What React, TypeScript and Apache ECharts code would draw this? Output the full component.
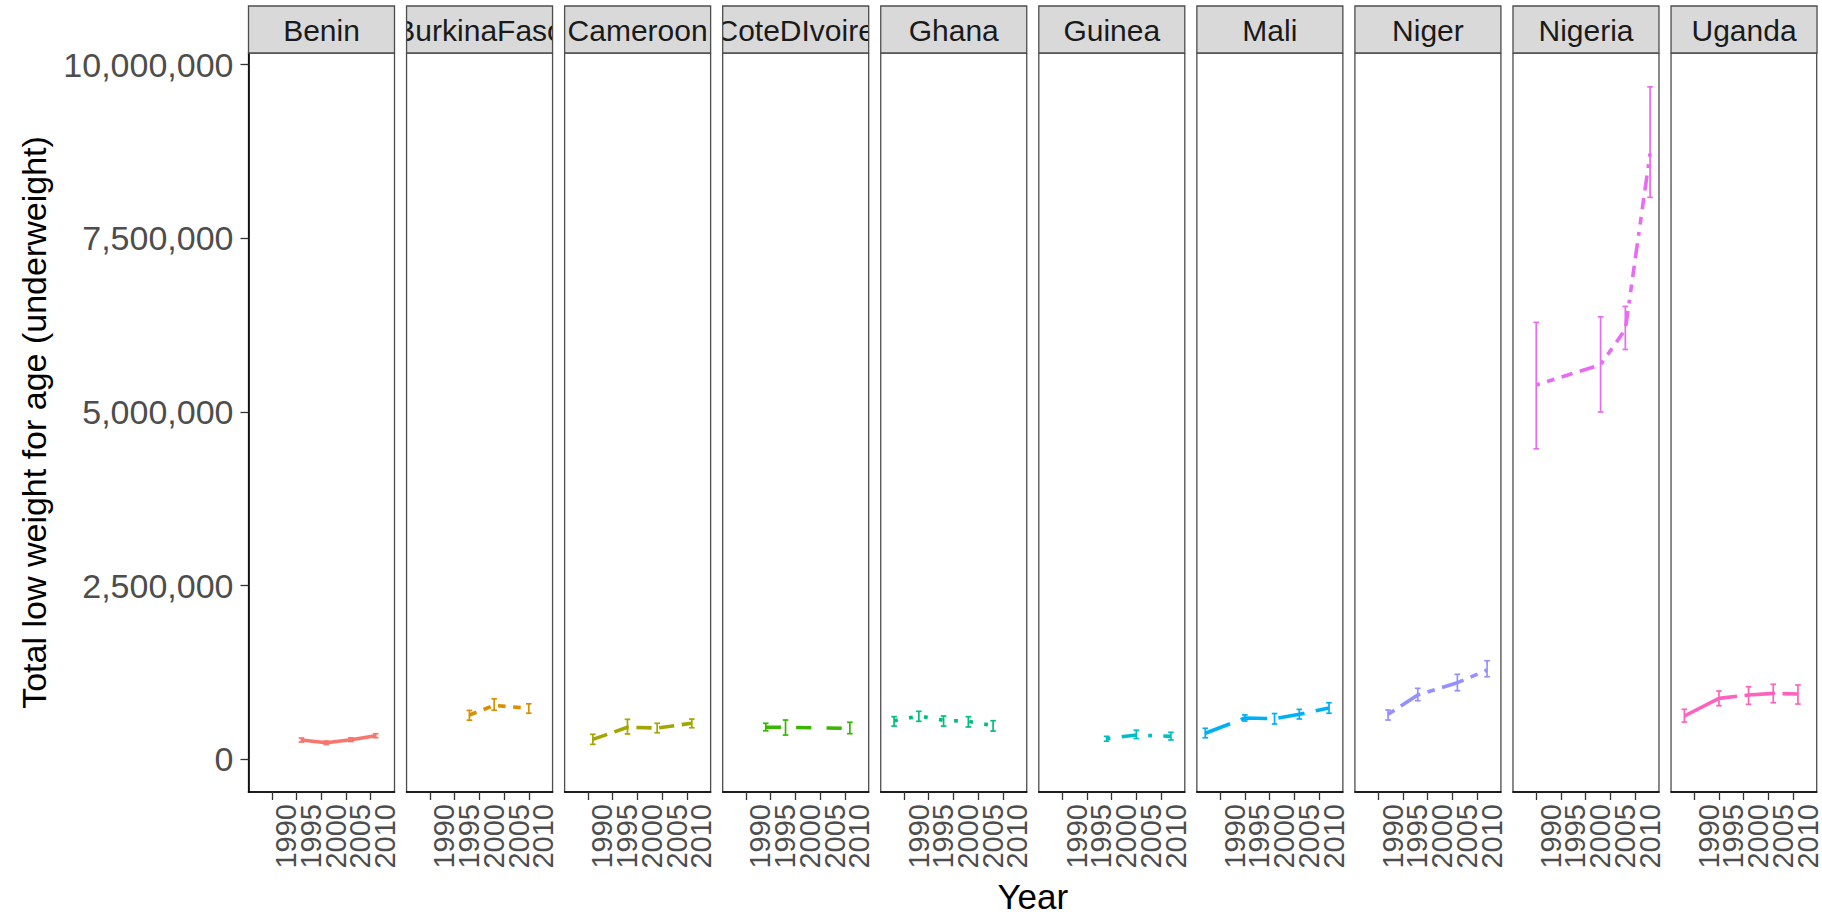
import React, { useEffect, useRef } from 'react';
import * as echarts from 'echarts';

const countries = ['Benin', 'BurkinaFaso', 'Cameroon', 'CoteDIvoire', 'Ghana', 'Guinea', 'Mali', 'Niger', 'Nigeria', 'Uganda'];
const countryColors = ['#F8766D', '#D89000', '#A3A500', '#39B600', '#00BF7D', '#00BFC4', '#00B0F6', '#9590FF', '#E76BF3', '#FF62BC'];
const linetypeCodes = ['solid', '22', '42', '44', '13', '1343', '73', '2262', '12223242', 'F282'];

const surveyYears: number[][] = [
  [1996, 2001, 2006, 2011],
  [1998, 2003, 2010],
  [1991, 1998, 2004, 2011],
  [1994, 1998, 2011],
  [1988, 1993, 1998, 2003, 2008],
  [1999, 2005, 2012],
  [1987, 1995, 2001, 2006, 2012],
  [1992, 1998, 2006, 2012],
  [1990, 2003, 2008, 2013],
  [1988, 1995, 2001, 2006, 2011],
];
const totalUnderweight: number[][] = [
  [279000, 240000, 284000, 341000],
  [639000, 778000, 735000],
  [289000, 462000, 452000, 520000],
  [462000, 462000, 447000],
  [557000, 625000, 563000, 548000, 485000],
  [298000, 351000, 332000],
  [376000, 596000, 586000, 649000, 740000],
  [649000, 927000, 1104000, 1287000],
  [5390000, 5680000, 6190000, 8720000],
  [625000, 879000, 927000, 951000, 941000],
];
const lowerBound: number[][] = [
  [250000, 215000, 258000, 312000],
  [565000, 708000, 665000],
  [217000, 366000, 384000, 456000],
  [412000, 351000, 370000],
  [480000, 548000, 480000, 467000, 408000],
  [262000, 300000, 280000],
  [312000, 552000, 510000, 582000, 664000],
  [567000, 845000, 989000, 1190000],
  [4470000, 5000000, 5900000, 8090000],
  [538000, 773000, 793000, 816000, 797000],
];
const upperBound: number[][] = [
  [308000, 265000, 310000, 370000],
  [705000, 872000, 800000],
  [361000, 577000, 520000, 581000],
  [520000, 567000, 535000],
  [615000, 692000, 625000, 615000, 557000],
  [332000, 420000, 390000],
  [448000, 640000, 660000, 720000, 816000],
  [711000, 1023000, 1225000, 1420000],
  [6290000, 6370000, 6520000, 9680000],
  [721000, 984000, 1046000, 1081000, 1071000],
];

const xTicks = [1990, 1995, 2000, 2005, 2010];
const xTicksMajor = [1990, 2000, 2010];
const xTicksMinor = [1995, 2005];
const yTicks = [0, 2500000, 5000000, 7500000, 10000000];

const FONT = "'Liberation Sans', Arial, sans-serif";

function dashFromCode(code: string, unit: number): 'solid' | number[] {
  if (code === 'solid') return 'solid';
  return code.split('').map((ch) => parseInt(ch, 16) * unit);
}

export default function App() {
  const ref = useRef<HTMLDivElement>(null);

  useEffect(() => {
    if (!ref.current) return;
    const chart = echarts.init(ref.current, null, { renderer: 'svg' });

    const PANEL_W = 146;
    const STEP = 158.06;
    const LEFT0 = 248.5;
    const TOP = 53;
    const H = 739;
    const STRIP_TOP = 6;
    const X_MIN = 1985.3;
    const X_MAX = 2014.8;

    const grids: any[] = [];
    const xAxes: any[] = [];
    const yAxes: any[] = [];
    const series: any[] = [];
    const graphics: any[] = [];

    const xLabelBase = {
      show: true, rotate: 90, fontSize: 29, color: '#4D4D4D',
      margin: 12, verticalAlign: 'top', fontFamily: FONT,
      showMinLabel: true, showMaxLabel: true, hideOverlap: false,
      formatter: (v: number) => String(Math.round(v)),
    };

    countries.forEach((name, i) => {
      const left = LEFT0 + i * STEP;
      const color = countryColors[i];
      grids.push({
        left, top: TOP, width: PANEL_W, height: H,
        show: true, borderColor: '#4D4D4D', borderWidth: 1.3, backgroundColor: 'transparent',
      });
      // main x axis: line, all ticks, labels 1990/2000/2010
      xAxes.push({
        gridIndex: i, type: 'value', position: 'bottom', min: X_MIN, max: X_MAX,
        axisLine: { show: true, onZero: false, lineStyle: { color: '#000000', width: 1.6 } },
        axisTick: { show: true, length: 8, customValues: xTicks, lineStyle: { color: '#333333', width: 1.3 } },
        axisLabel: { ...xLabelBase, customValues: xTicksMajor },
        splitLine: { show: false },
      });
      yAxes.push({
        gridIndex: i, type: 'value', min: -469000, max: 10167000,
        axisLine: { show: i === 0, onZero: false, lineStyle: { color: '#000000', width: 1.6 } },
        axisTick: { show: i === 0, length: 8, customValues: yTicks, lineStyle: { color: '#333333', width: 1.3 } },
        axisLabel: {
          show: i === 0, customValues: yTicks, fontSize: 34, color: '#4D4D4D', margin: 15, fontFamily: FONT,
          showMinLabel: true, showMaxLabel: true,
          formatter: (v: number) => Math.round(v).toLocaleString('en-US'),
        },
        splitLine: { show: false },
      });

      const yrs = surveyYears[i];
      series.push({
        type: 'line', xAxisIndex: i, yAxisIndex: i, silent: true, z: 3,
        symbol: 'none', showSymbol: false,
        data: yrs.map((y, k) => [y, totalUnderweight[i][k]]),
        lineStyle: { color, width: 3.6, type: dashFromCode(linetypeCodes[i], 3.8), cap: 'butt' },
      });
      series.push({
        type: 'custom', xAxisIndex: i, yAxisIndex: i, silent: true, z: 4,
        encode: { x: 0, y: [1, 2] },
        data: yrs.map((y, k) => [y, lowerBound[i][k], upperBound[i][k]]),
        renderItem: (params: any, api: any) => {
          const p1 = api.coord([api.value(0), api.value(1)]);
          const p2 = api.coord([api.value(0), api.value(2)]);
          const hw = 2.8;
          const st = { stroke: color, lineWidth: 1.7 };
          return {
            type: 'group',
            children: [
              { type: 'line', shape: { x1: p1[0], y1: p1[1], x2: p2[0], y2: p2[1] }, style: st },
              { type: 'line', shape: { x1: p1[0] - hw, y1: p1[1], x2: p1[0] + hw, y2: p1[1] }, style: st },
              { type: 'line', shape: { x1: p2[0] - hw, y1: p2[1], x2: p2[0] + hw, y2: p2[1] }, style: st },
            ],
          };
        },
      });

      graphics.push({
        type: 'rect', z: 1,
        shape: { x: left, y: STRIP_TOP, width: PANEL_W, height: TOP - STRIP_TOP },
        style: { fill: '#D9D9D9', stroke: 'none' },
      });
      graphics.push({
        type: 'text', z: 2, x: left + PANEL_W / 2, y: (STRIP_TOP + TOP) / 2 + 1,
        style: {
          text: name, fontSize: 30, fontFamily: FONT, fill: '#1A1A1A',
          textAlign: 'center', textVerticalAlign: 'middle',
        },
      });
      if (i < countries.length - 1) {
        graphics.push({
          type: 'rect', z: 3,
          shape: { x: left + PANEL_W, y: 0, width: STEP - PANEL_W, height: TOP },
          style: { fill: '#FFFFFF', stroke: 'none' },
        });
      }
      graphics.push({
        type: 'rect', z: 4,
        shape: { x: left, y: STRIP_TOP, width: PANEL_W, height: TOP - STRIP_TOP },
        style: { fill: 'none', stroke: '#4D4D4D', lineWidth: 1.3 },
      });
    });

    // secondary x axes (labels 1995 / 2005), appended after the main ones
    countries.forEach((_, i) => {
      xAxes.push({
        gridIndex: i, type: 'value', position: 'bottom', offset: 0, min: X_MIN, max: X_MAX,
        axisLine: { show: false, onZero: false },
        axisTick: { show: false },
        axisLabel: { ...xLabelBase, customValues: xTicksMinor },
        splitLine: { show: false },
      });
    });

    graphics.push({
      type: 'text', z: 5, x: 34, y: TOP + H / 2, rotation: Math.PI / 2,
      style: {
        text: 'Total low weight for age (underweight)', fontSize: 34, fontFamily: FONT, fill: '#000000',
        textAlign: 'center', textVerticalAlign: 'middle',
      },
    });
    graphics.push({
      type: 'text', z: 5, x: LEFT0 + (9 * STEP + PANEL_W) / 2, y: 896,
      style: {
        text: 'Year', fontSize: 35, fontFamily: FONT, fill: '#000000',
        textAlign: 'center', textVerticalAlign: 'middle',
      },
    });

    chart.setOption({
      animation: false,
      backgroundColor: '#FFFFFF',
      textStyle: { fontFamily: FONT },
      grid: grids,
      xAxis: xAxes,
      yAxis: yAxes,
      series,
      graphic: { elements: graphics },
    });

    return () => chart.dispose();
  }, []);

  return (
    <div
      ref={ref}
      style={{ position: 'absolute', left: 0, top: 0, width: 1822, height: 915 }}
    />
  );
}
